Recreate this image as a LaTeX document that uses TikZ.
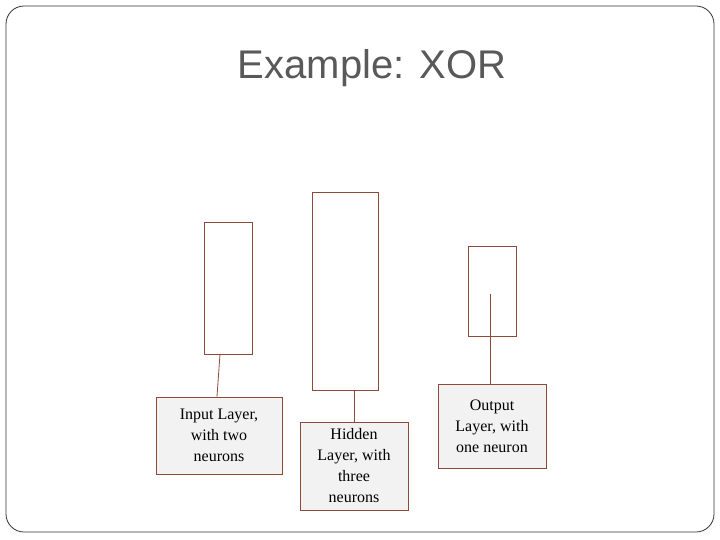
\documentclass[tikz,border=0pt]{standalone}
\usepackage{fontspec}
\setmainfont{Liberation Serif}
\newfontfamily\titlefont{Liberation Sans}
\definecolor{brn}{HTML}{8B4A3A}
\definecolor{lbl}{HTML}{F2F2F2}
\begin{document}
\begin{tikzpicture}[x=1pt,y=-1pt,
  bar/.style={draw=brn,line width=0.8pt},
  lab/.style={draw=brn,fill=lbl,line width=0.8pt,align=center,font=\fontsize{16}{21}\selectfont,inner sep=0pt},
  conn/.style={draw=brn,line width=0.8pt}]
\useasboundingbox (0,0) rectangle (720,540);
\draw[rounded corners=18pt,line width=0.8pt,draw=black!80] (6,6) rectangle (714,532);
\node[font=\titlefont\fontsize{40}{48}\selectfont,text=black!65] (title) at (372,68) {Example: XOR};
\node[bar,minimum width=48pt,minimum height=132pt] (r1) at (228,288) {};
\node[bar,minimum width=66pt,minimum height=198pt] (r2) at (345,291) {};
\node[bar,minimum width=48pt,minimum height=90pt] (r3) at (492,291) {};
\node[lab,minimum width=126pt,minimum height=77pt] (b1) at (219,435.5) {Input Layer,\\with two\\neurons};
\node[lab,minimum width=108pt,minimum height=88pt] (b2) at (354,466) {Hidden\\Layer, with\\three\\neurons};
\node[lab,minimum width=108pt,minimum height=84pt] (b3) at (492,426) {Output\\Layer, with\\one neuron};
\coordinate (c1) at (220,354);
\coordinate (c3) at (490,294);
\draw[conn] (c1) -- (b1.north -| 217,0);
\draw[conn] (b2.north |- r2.south) -- (b2.north);
\draw[conn] (c3) -- (b3.north -| c3);
\end{tikzpicture}
\end{document}
